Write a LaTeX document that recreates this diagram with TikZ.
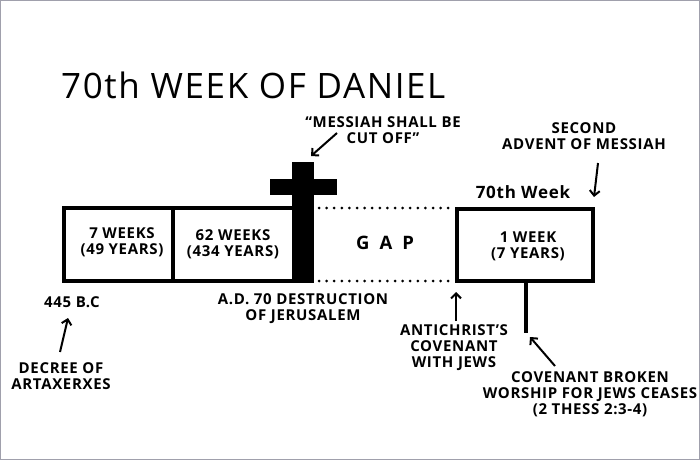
\documentclass[tikz,border=0pt]{standalone}
\usepackage{fontspec}
\setmainfont{Open Sans}
\newfontfamily\titlefont[LetterSpace=4.6]{Open Sans}
\newfontfamily\bodyfont[LetterSpace=4.5]{Open Sans}
\newfontfamily\weekfont[LetterSpace=4.5]{Open Sans}
\usetikzlibrary{arrows.meta}
\begin{document}
\begin{tikzpicture}[x=1pt,y=-1pt,
  lbl/.style={font=\bodyfont\bfseries\fontsize{15}{16}\selectfont, align=center, inner sep=0pt},
  boxline/.style={line width=4pt, draw=black},
  dots/.style={line width=3pt, line cap=round, dash pattern=on 0pt off 7.6pt},
  pointer/.style={line width=2pt, -{Straight Barb[length=5pt,width=10pt,line width=2pt]}},
  blackbar/.style={fill=black, draw=none, inner sep=0pt}]
\useasboundingbox (0,0) rectangle (700,460);
\draw[draw={rgb,255:red,160;green,160;blue,172}, line width=1.2pt] (0.6,0.6) rectangle (699.4,459.4);

% title
\node[font=\titlefont\fontsize{35}{40}\selectfont, inner sep=0pt, anchor=west] (title) at (61,85) {70th WEEK OF DANIEL};

% main box
\node[boxline, inner sep=0pt, minimum width=230pt, minimum height=73pt] (mainbox) at (179,244.5) {};
\draw[boxline] (mainbox.north west -| 173,0) -- (mainbox.south west -| 173,0);
% cross
\node[blackbar, minimum width=22pt, minimum height=121pt] (crossv) at (303,222.5) {};
\node[blackbar, minimum width=67pt, minimum height=16pt] (crossh) at (303.5,187) {};
\coordinate (crosstop) at (311,156);

% gap dotted lines
\coordinate (gapTL) at (319,208);
\coordinate (gapTR) at (452,208);
\coordinate (gapBL) at (319,281);
\coordinate (gapBR) at (452,281);
\draw[dots] (gapTL) -- (gapTR);
\draw[dots] (gapBL) -- (gapBR);

% 70th week box
\node[boxline, inner sep=0pt, minimum width=136pt, minimum height=72pt] (weekbox) at (525,245) {};
\coordinate (stemTop) at (526,283);
\coordinate (stemBot) at (526,333);
\draw[line width=3.5pt] (stemTop) -- (stemBot);

% labels in boxes
\node[lbl] (w7) at (122,242) {7 WEEKS\\(49 YEARS)};
\node[lbl] (w62) at (233,244) {62 WEEKS\\(434 YEARS)};
\node[font=\bodyfont\bfseries\fontsize{18.5}{20}\selectfont, inner sep=0pt] (gap) at (385,243) {G\hspace{10pt}A\hspace{10pt}P};
\node[lbl] (w1) at (528,246) {1 WEEK\\(7 YEARS)};
\node[font=\weekfont\bfseries\fontsize{17}{20}\selectfont, inner sep=0pt] (week70) at (523,192) {70th Week};

% annotations
\node[lbl] (messiah) at (383,130) {“MESSIAH SHALL BE\\CUT OFF”};
\node[lbl] (advent) at (584,136) {SECOND\\ADVENT OF MESSIAH};
\node[lbl] (bc) at (72,302) {445 B.C};
\node[lbl] (decree) at (61,376) {DECREE OF\\ARTAXERXES};
\node[lbl] (ad70) at (303,309) {A.D. 70 DESTRUCTION\\OF JERUSALEM};
\node[lbl] (antichrist) at (454,348) {ANTICHRIST’S\\COVENANT\\WITH JEWS};
\node[lbl] (broken) at (590,394) {COVENANT BROKEN\\WORSHIP FOR JEWS CEASES\\(2 THESS 2:3-4)};

% arrows
\coordinate (decreeTip) at (68,318);
\coordinate (decreeTail) at (60,352);
\draw[pointer] (decreeTail) -- (decreeTip);
\coordinate (antiTail) at (456,321);
\coordinate (antiTip) at (456,292);
\draw[pointer] (antiTail) -- (antiTip);
\coordinate (brokenTail) at (555,366);
\coordinate (brokenTip) at (530,337);
\draw[pointer] (brokenTail) -- (brokenTip);
\coordinate (messTail) at (337,133);
\draw[pointer] (messTail) -- (crosstop);
\coordinate (advTail) at (598,163);
\coordinate (advTip) at (594,197);
\draw[pointer] (advTail) -- (advTip);
\end{tikzpicture}
\end{document}
